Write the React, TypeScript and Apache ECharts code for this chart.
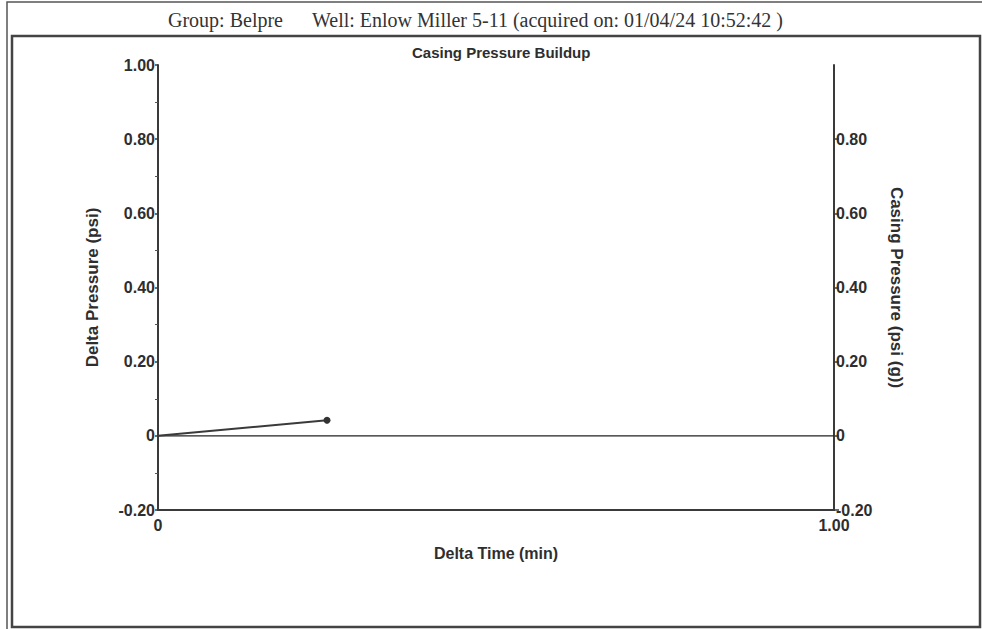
import React, { useEffect, useRef } from "react";
import * as echarts from "echarts";

// ---- data ----
const deltaTime: number[] = [0, 0.25];
const deltaPressure: number[] = [0, 0.042];
const casingTime: number[] = [0, 1];
const casingPressure: number[] = [0, 0];

const headerGroup = "Group: Belpre";
const headerWell = "Well: Enlow Miller 5-11 (acquired on: 01/04/24 10:52:42 )";
const chartTitle = "Casing Pressure Buildup";
const xName = "Delta Time (min)";
const yLeftName = "Delta Pressure (psi)";
const yRightName = "Casing Pressure (psi (g))";

const yMin = -0.2;
const yMax = 1.0;
const yInterval = 0.2;
const xMin = 0;
const xMax = 1;
const xInterval = 1;

const fmt = (v: number) => (Math.abs(v) < 1e-9 ? "0" : v.toFixed(2));

export default function App() {
  const ref = useRef<HTMLDivElement>(null);

  useEffect(() => {
    if (!ref.current) return;
    const chart = echarts.init(ref.current, undefined, { renderer: "svg" });
    const ink = "#2e2e2e";
    const sans = "Liberation Sans, Arial, sans-serif";
    const serif = "Liberation Serif, Times New Roman, serif";

    const yAxisCommon = {
      type: "value" as const,
      min: yMin,
      max: yMax,
      interval: yInterval,
      splitLine: { show: false },
      axisLine: { show: true, lineStyle: { color: "#3a3a3a", width: 2 } },
      nameLocation: "middle" as const,
      nameTextStyle: { color: ink, fontFamily: sans, fontSize: 17, fontWeight: "bold" as const },
    };

    chart.setOption({
      animation: false,
      backgroundColor: "#ffffff",
      title: [
        {
          text: headerGroup,
          left: 168,
          top: 10,
          padding: 0,
          textStyle: { fontFamily: serif, fontSize: 20, fontWeight: "normal", color: "#333" },
        },
        {
          text: headerWell,
          left: 312,
          top: 10,
          padding: 0,
          textStyle: { fontFamily: serif, fontSize: 20, fontWeight: "normal", color: "#333" },
        },
        {
          text: chartTitle,
          left: 412,
          top: 45,
          padding: 0,
          textStyle: { fontFamily: sans, fontSize: 15, fontWeight: "bold", color: ink },
        },
      ],
      graphic: [
        {
          type: "rect",
          shape: { x: 7, y: 2, width: 985, height: 640 },
          style: { fill: "none", stroke: "#555", lineWidth: 1.5 },
          silent: true,
        },
        {
          type: "rect",
          shape: { x: 12, y: 36, width: 968, height: 591 },
          style: { fill: "none", stroke: "#444", lineWidth: 2.5 },
          silent: true,
        },
      ],
      grid: { left: 158, right: 148, top: 65, bottom: 119, containLabel: false },
      xAxis: {
        type: "value",
        min: xMin,
        max: xMax,
        interval: xInterval,
        splitLine: { show: false },
        axisLine: { show: true, onZero: false, lineStyle: { color: "#3a3a3a", width: 2 } },
        axisTick: { show: false },
        axisLabel: {
          formatter: fmt,
          color: ink,
          fontFamily: sans,
          fontSize: 16,
          fontWeight: "bold",
          margin: 7,
        },
        name: xName,
        nameLocation: "middle",
        nameGap: 35,
        nameTextStyle: { color: ink, fontFamily: sans, fontSize: 16, fontWeight: "bold" },
      },
      yAxis: [
        {
          ...yAxisCommon,
          position: "left",
          name: yLeftName,
          nameRotate: 90,
          nameGap: 57,
          axisTick: { show: true, inside: false, length: 3, lineStyle: { color: "#3a3a3a", width: 1.5 } },
          minorTick: { show: true, splitNumber: 2, length: 3, lineStyle: { color: "#555" } },
          axisLabel: {
            formatter: fmt,
            color: ink,
            fontFamily: sans,
            fontSize: 16,
            fontWeight: "bold",
            margin: 3,
          },
        },
        {
          ...yAxisCommon,
          position: "right",
          name: yRightName,
          nameRotate: -90,
          nameGap: 54,
          axisTick: { show: true, inside: false, length: 5, lineStyle: { color: "#3a3a3a", width: 1.5 } },
          axisLabel: {
            formatter: fmt,
            showMaxLabel: false,
            color: ink,
            fontFamily: sans,
            fontSize: 16,
            fontWeight: "bold",
            margin: 2,
          },
        },
      ],
      series: [
        {
          name: "Casing Pressure",
          type: "line",
          yAxisIndex: 1,
          data: casingTime.map((t, i) => [t, casingPressure[i]]),
          symbol: "none",
          lineStyle: { color: "#222", width: 1.2 },
          silent: true,
        },
        {
          name: "Delta Pressure",
          type: "line",
          yAxisIndex: 0,
          data: deltaTime.map((t, i) =>
            i === deltaTime.length - 1
              ? { value: [t, deltaPressure[i]], symbol: "circle", symbolSize: 7 }
              : { value: [t, deltaPressure[i]], symbol: "none" }
          ),
          showAllSymbol: true,
          itemStyle: { color: "#333" },
          lineStyle: { color: "#3a3a3a", width: 2 },
          silent: true,
        },
      ],
    });

    return () => chart.dispose();
  }, []);

  return (
    <div
      ref={ref}
      style={{ position: "absolute", left: 0, top: 0, width: 982, height: 629, background: "#fff" }}
    />
  );
}
